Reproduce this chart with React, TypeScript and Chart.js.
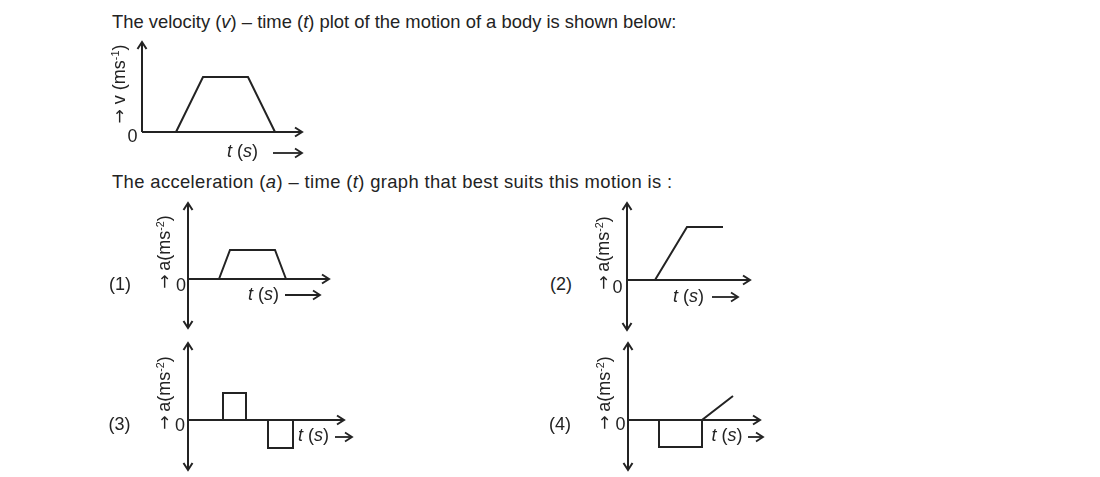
import React, { useEffect, useRef } from "react";
import { Chart, registerables } from "chart.js";

Chart.register(...registerables);

// ---------------- data (arbitrary units) ----------------
// v–t graph of the body
const vtTime = [3.4, 6.1, 10.6, 13.3];
const vtVelocity = [0, 5.5, 5.5, 0];
const vtAxis = [16, 0, 9]; // [tMax, vMin, vMax]

// option (1)
const opt1Time = [3.1, 4.2, 8.7, 9.8];
const opt1Acc = [0, 2.9, 2.9, 0];
const opt1Axis = [14.1, -4.9, 7.6];

// option (2)
const opt2Time = [2.8, 6.0, 9.6];
const opt2Acc = [0, 5.3, 5.3];
const opt2Axis = [12.3, -5.0, 7.7];

// option (3)
const opt3Time = [3.5, 3.5, 5.8, 5.8, 8.0, 8.0, 10.5, 10.5];
const opt3Acc = [0, 2.7, 2.7, 0, 0, -2.8, -2.8, 0];
const opt3Axis = [15.6, -5.0, 7.7];

// option (4)
const opt4Time = [3.1, 3.1, 7.4, 7.4, 10.5];
const opt4Acc = [0, -2.7, -2.7, 0, 2.4];
const opt4Axis = [13.2, -5.0, 7.7];

// ---------------- styling ----------------
const INK = "#232323";
const FONT = '"Liberation Sans", Arial, Helvetica, sans-serif';
const ARROW_FONT = '"DejaVu Sans", sans-serif';
const PX_PER_UNIT = 10;
const PAD = 30;

type ArrowSpec = { x1: number; x2: number; y: number };

const arrowAxesPlugin = {
  id: "arrowAxes",
  afterDatasetsDraw(chart: any, _args: any, opts: any) {
    const { ctx, scales } = chart;
    const xs = scales.x;
    const ys = scales.y;
    const x0 = xs.getPixelForValue(0);
    const y0 = ys.getPixelForValue(0);
    const xr = xs.getPixelForValue(xs.max);
    const yt = ys.getPixelForValue(ys.max);
    const yb = ys.getPixelForValue(ys.min);
    ctx.save();
    ctx.strokeStyle = INK;
    ctx.lineWidth = 2;
    ctx.lineCap = "butt";
    ctx.lineJoin = "miter";
    const seg = (a: number, b: number, c: number, d: number) => {
      ctx.beginPath();
      ctx.moveTo(a, b);
      ctx.lineTo(c, d);
      ctx.stroke();
    };
    const headRight = (x: number, y: number) => {
      ctx.beginPath();
      ctx.moveTo(x - 7, y - 4.5);
      ctx.lineTo(x, y);
      ctx.lineTo(x - 7, y + 4.5);
      ctx.stroke();
    };
    const headUp = (x: number, y: number) => {
      ctx.beginPath();
      ctx.moveTo(x - 4.5, y + 7);
      ctx.lineTo(x, y);
      ctx.lineTo(x + 4.5, y + 7);
      ctx.stroke();
    };
    const headDown = (x: number, y: number) => {
      ctx.beginPath();
      ctx.moveTo(x - 4.5, y - 7);
      ctx.lineTo(x, y);
      ctx.lineTo(x + 4.5, y - 7);
      ctx.stroke();
    };
    // axes
    seg(x0, y0, xr, y0);
    seg(x0, yt, x0, yb);
    headRight(xr, y0);
    headUp(x0, yt);
    if (ys.min < 0) headDown(x0, yb);
    // t (s) --> arrow
    const a: ArrowSpec | undefined = opts && opts.tArrow;
    if (a) {
      const ox = opts.offsetX;
      const oy = opts.offsetY;
      ctx.lineWidth = 1.8;
      seg(a.x1 - ox, a.y - oy, a.x2 - ox, a.y - oy);
      headRight(a.x2 - ox, a.y - oy);
    }
    ctx.restore();
  },
};

type GraphProps = {
  time: number[];
  values: number[];
  axis: number[];
  originX: number;
  originY: number;
  tArrow: ArrowSpec;
};

function Graph({ time, values, axis, originX, originY, tArrow }: GraphProps) {
  const ref = useRef<HTMLCanvasElement | null>(null);
  const [tMax, yMin, yMax] = axis;
  const w = Math.round(tMax * PX_PER_UNIT) + 2 * PAD;
  const h = Math.round((yMax - yMin) * PX_PER_UNIT) + 2 * PAD;
  const left = originX - PAD;
  const top = Math.round(originY - yMax * PX_PER_UNIT) - PAD;

  useEffect(() => {
    if (!ref.current) return;
    const chart = new Chart(ref.current, {
      type: "scatter",
      data: {
        datasets: [
          {
            data: time.map((t, i) => ({ x: t, y: values[i] })),
            showLine: true,
            borderColor: INK,
            borderWidth: 2,
            pointRadius: 0,
            pointHoverRadius: 0,
            tension: 0,
            fill: false,
            clip: 10,
          } as any,
        ],
      },
      options: {
        responsive: false,
        maintainAspectRatio: false,
        devicePixelRatio: 1,
        animation: false,
        events: [],
        layout: { padding: PAD },
        scales: {
          x: { type: "linear", min: 0, max: tMax, display: false },
          y: { type: "linear", min: yMin, max: yMax, display: false },
        },
        plugins: {
          legend: { display: false },
          tooltip: { enabled: false },
          arrowAxes: { tArrow, offsetX: left, offsetY: top },
        } as any,
      },
      plugins: [arrowAxesPlugin],
    });
    return () => chart.destroy();
  }, []);

  return (
    <canvas
      ref={ref}
      width={w}
      height={h}
      style={{ position: "absolute", left, top, width: w, height: h }}
    />
  );
}

const base: React.CSSProperties = {
  position: "absolute",
  fontFamily: FONT,
  color: INK,
  lineHeight: 1,
  whiteSpace: "nowrap",
};

function Centered({ x, y, size = 18, children }: any) {
  return (
    <div style={{ ...base, left: x, top: y, fontSize: size, transform: "translate(-50%,-50%)" }}>
      {children}
    </div>
  );
}

function Rotated({ x, y, children }: any) {
  return (
    <div
      style={{
        ...base,
        left: x,
        top: y,
        fontSize: 18,
        transform: "translate(-50%,-50%) rotate(-90deg)",
      }}
    >
      {children}
    </div>
  );
}

const Sup = ({ children }: any) => (
  <span style={{ fontSize: "0.6em", position: "relative", top: "-0.6em", verticalAlign: "baseline" }}>
    {children}
  </span>
);

const Arrow = () => (
  <span style={{ fontFamily: ARROW_FONT, fontSize: "0.95em" }}>{"\u2192"}</span>
);

function TLabel({ x, y }: { x: number; y: number }) {
  return (
    <div style={{ ...base, left: x, top: y, fontSize: 18 }}>
      <i>t</i> (<i>s</i>)
    </div>
  );
}

function ALabel() {
  return (
    <>
      <Arrow />
      {"\u2009"}a(ms<Sup>-2</Sup>)
    </>
  );
}

export default function App() {
  return (
    <div
      style={{
        position: "fixed",
        left: 0,
        top: 0,
        width: 1100,
        height: 477,
        background: "#ffffff",
        overflow: "hidden",
      }}
    >
      {/* titles */}
      <div style={{ ...base, left: 112, top: 12.8, fontSize: 18.4 }}>
        The velocity (<i>v</i>) – time (<i>t</i>) plot of the motion of a body is shown below:
      </div>
      <div style={{ ...base, left: 112, top: 173.3, fontSize: 18.4, letterSpacing: 0.37 }}>
        The acceleration (<i>a</i>) – time (<i>t</i>) graph that best suits this motion is :
      </div>

      {/* graphs */}
      <Graph time={vtTime} values={vtVelocity} axis={vtAxis} originX={142} originY={132}
        tArrow={{ x1: 273, x2: 302, y: 153 }} />
      <Graph time={opt1Time} values={opt1Acc} axis={opt1Axis} originX={188} originY={279}
        tArrow={{ x1: 285, x2: 320, y: 295 }} />
      <Graph time={opt2Time} values={opt2Acc} axis={opt2Axis} originX={627} originY={280}
        tArrow={{ x1: 712, x2: 738, y: 297 }} />
      <Graph time={opt3Time} values={opt3Acc} axis={opt3Axis} originX={188} originY={420}
        tArrow={{ x1: 335, x2: 352, y: 437 }} />
      <Graph time={opt4Time} values={opt4Acc} axis={opt4Axis} originX={628} originY={420}
        tArrow={{ x1: 748, x2: 763, y: 437 }} />

      {/* v-t labels */}
      <Rotated x={119} y={84}>
        <Arrow /> v (ms<Sup>-1</Sup>)
      </Rotated>
      <Centered x={132.5} y={136}>0</Centered>
      <TLabel x={227} y={142} />

      {/* option labels */}
      <Centered x={120} y={284}>(1)</Centered>
      <Centered x={561} y={284}>(2)</Centered>
      <Centered x={119.5} y={424}>(3)</Centered>
      <Centered x={560} y={424}>(4)</Centered>

      <Rotated x={164} y={251.5}><ALabel /></Rotated>
      <Rotated x={603} y={252.5}><ALabel /></Rotated>
      <Rotated x={164} y={392.5}><ALabel /></Rotated>
      <Rotated x={604} y={392.5}><ALabel /></Rotated>

      <Centered x={181} y={285}>0</Centered>
      <Centered x={617.5} y={286.5}>0</Centered>
      <Centered x={180} y={424.5}>0</Centered>
      <Centered x={620.5} y={424}>0</Centered>

      <TLabel x={248} y={284.5} />
      <TLabel x={673} y={286.8} />
      <TLabel x={298} y={426.2} />
      <TLabel x={711.5} y={426.2} />
    </div>
  );
}
